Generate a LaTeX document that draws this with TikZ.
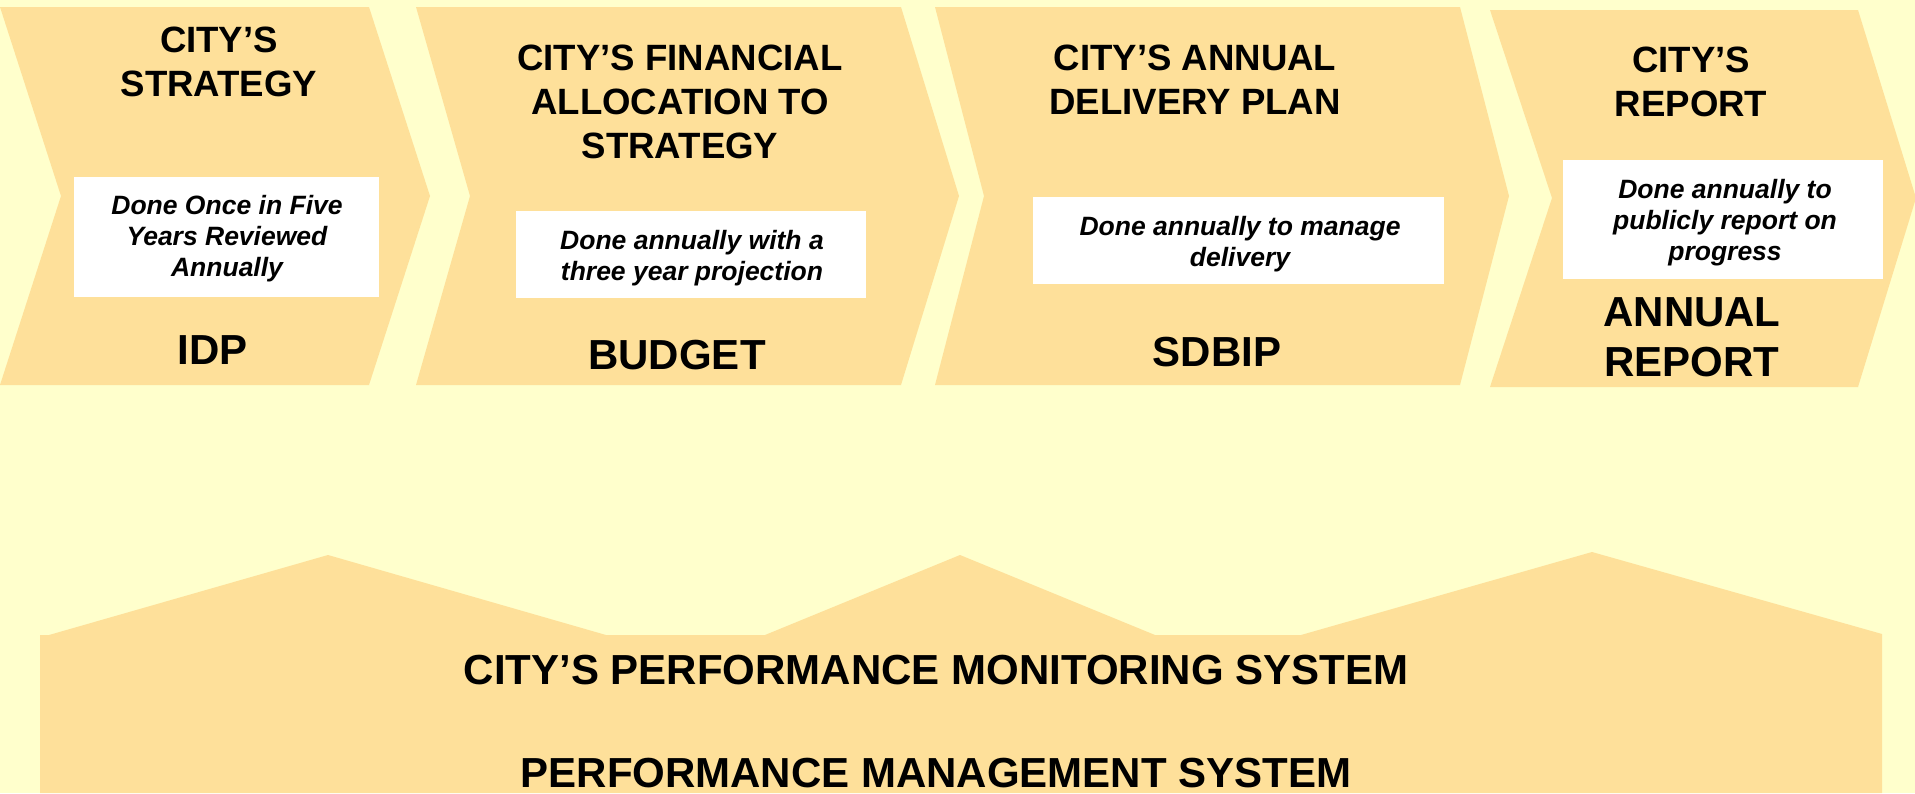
\documentclass[tikz,border=0pt]{standalone}
\usepackage{fontspec}
\setmainfont{Liberation Sans}
\definecolor{paleyellow}{RGB}{255,255,204}
\definecolor{tanfill}{RGB}{254,224,154}
\tikzset{
  stage/.style={fill=tanfill, draw=none},
  stagetitle/.style={anchor=north, inner sep=0pt, align=center,
    font=\fontsize{36.6}{44}\selectfont\bfseries},
  notetext/.style={anchor=north, inner sep=0pt, align=center,
    font=\fontsize{26.5}{31.2}\selectfont\bfseries\itshape},
  doclabel/.style={anchor=north, inner sep=0pt, align=center,
    font=\fontsize{42}{50}\selectfont\bfseries},
  notebox/.style={fill=white, draw=none, inner sep=0pt, anchor=north west}
}
\begin{document}
\begin{tikzpicture}[x=1pt, y=-1pt]
  \useasboundingbox (0,0) rectangle (1915,793);
  \fill[paleyellow] (0,0) rectangle (1915,793);

  % process chevrons
  \fill[stage] (0,7) -- (369,7) -- (430,196) -- (369,385) -- (0,385) -- (61,196) -- cycle;
  \fill[stage] (416,7) -- (901,7) -- (959,196) -- (901,385) -- (416,385) -- (470,196) -- cycle;
  \fill[stage] (935,7) -- (1460,7) -- (1509,196) -- (1460,385) -- (935,385) -- (984,196) -- cycle;
  \fill[stage] (1490,10) -- (1858,10) -- (1916,198) -- (1858,387) -- (1490,387) -- (1552,198) -- cycle;

  % monitoring base
  \fill[stage] (40,635) -- (49,635) -- (328,555) -- (606,635) -- (765,635) -- (960,555)
    -- (1155,635) -- (1301,635) -- (1592,552) -- (1882,634) -- (1882,793) -- (40,793) -- cycle;

  % stage titles
  \node[stagetitle] (t1) at (219,27) {CITY’S\\STRATEGY};
  \node[stagetitle] (t2) at (680,45) {CITY’S FINANCIAL\\ALLOCATION TO\\STRATEGY};
  \node[stagetitle] (t3) at (1195,45) {CITY’S ANNUAL\\DELIVERY PLAN};
  \node[stagetitle] (t4) at (1691,47) {CITY’S\\REPORT};

  % frequency notes
  \node[notebox, minimum width=305pt, minimum height=120pt] (b1) at (74,177) {};
  \node[notebox, minimum width=350pt, minimum height=87pt] (b2) at (516,211) {};
  \node[notebox, minimum width=411pt, minimum height=87pt] (b3) at (1033,197) {};
  \node[notebox, minimum width=320pt, minimum height=119pt] (b4) at (1563,160) {};
  \node[notetext] (n1) at (227,195) {Done Once in Five\\Years Reviewed\\Annually};
  \node[notetext] (n2) at (692,230) {Done annually with a\\three year projection};
  \node[notetext] (n3) at (1240,216) {Done annually to manage\\delivery};
  \node[notetext] (n4) at (1725,179) {Done annually to\\publicly report on\\progress};

  % document names
  \node[doclabel] (d1) at (213,335) {IDP};
  \node[doclabel] (d2) at (677,340) {BUDGET};
  \node[doclabel] (d3) at (1217,337) {SDBIP};
  \node[doclabel] (d4) at (1692,297) {ANNUAL\\REPORT};

  % systems
  \node[doclabel] (s1) at (936,655) {CITY’S PERFORMANCE MONITORING SYSTEM};
  \node[doclabel] (s2) at (936,758) {PERFORMANCE MANAGEMENT SYSTEM};
\end{tikzpicture}
\end{document}
